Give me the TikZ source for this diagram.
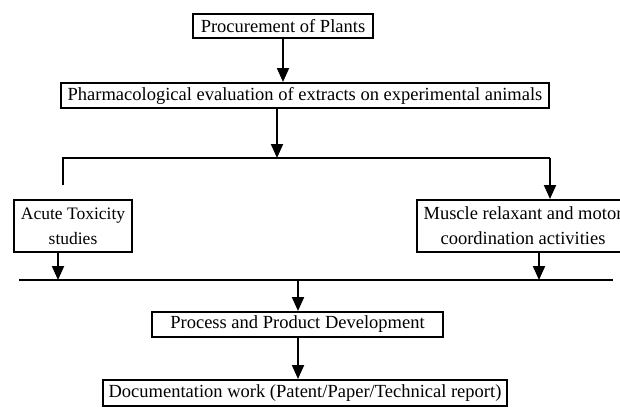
\documentclass[tikz,border=0pt]{standalone}
\usepackage{fontspec}
\setmainfont{Liberation Serif}
\usetikzlibrary{arrows.meta}

\begin{document}
\begin{tikzpicture}[x=1pt, y=-1pt,
    every node/.style={font=\fontsize{18.5}{25}\selectfont},
    box/.style={draw, line width=2pt, inner sep=0pt, align=center},
    arr/.style={line width=2pt, -{Triangle[length=14pt,width=12pt]}}]
  \useasboundingbox (0,0) rectangle (620,407);
  \node[box, minimum width=180pt, minimum height=24pt] (p) at (283,26) {Procurement of Plants};
  \node[box, minimum width=488pt, minimum height=25pt] (e) at (305,95.5) {Pharmacological evaluation of extracts on experimental animals};
  \node[box, minimum width=118pt, minimum height=52pt, font=\fontsize{17.5}{25}\selectfont] (a) at (73,226) {Acute Toxicity\\studies};
  \node[box, minimum width=212pt, minimum height=52pt] (m) at (523,226) {Muscle relaxant and motor\\coordination activities};
  \node[box, minimum width=291pt, minimum height=25pt] (d) at (297.5,324.5) {Process and Product Development};
  \node[box, minimum width=404pt, minimum height=26pt] (r) at (305,393) {Documentation work (Patent/Paper/Technical report)};
  % branch and collecting line
  \coordinate (t) at (277,158);
  \coordinate (bl) at (63,185);
  \coordinate (br) at (550,158);
  \coordinate (l1) at (19,280);
  \coordinate (l2) at (613,280);
  \coordinate (ta) at (58,280);
  \coordinate (tm) at (539,280);
  \coordinate (tb) at (298,280);
  \draw[arr] (p.south) -- (p.south |- e.north);
  \draw[arr] (e.south -| t) -- (t);
  \draw[line width=2pt] (bl) -- (bl |- br) -- (br);
  \draw[arr] (br) -- (br |- m.north);
  \draw[line width=2pt] (l1) -- (l2);
  \draw[arr] (a.south -| ta) -- (ta);
  \draw[arr] (m.south -| tm) -- (tm);
  \draw[arr] (tb) -- (tb |- d.north);
  \draw[arr] (d.south -| tb) -- (r.north -| tb);
\end{tikzpicture}
\end{document}
